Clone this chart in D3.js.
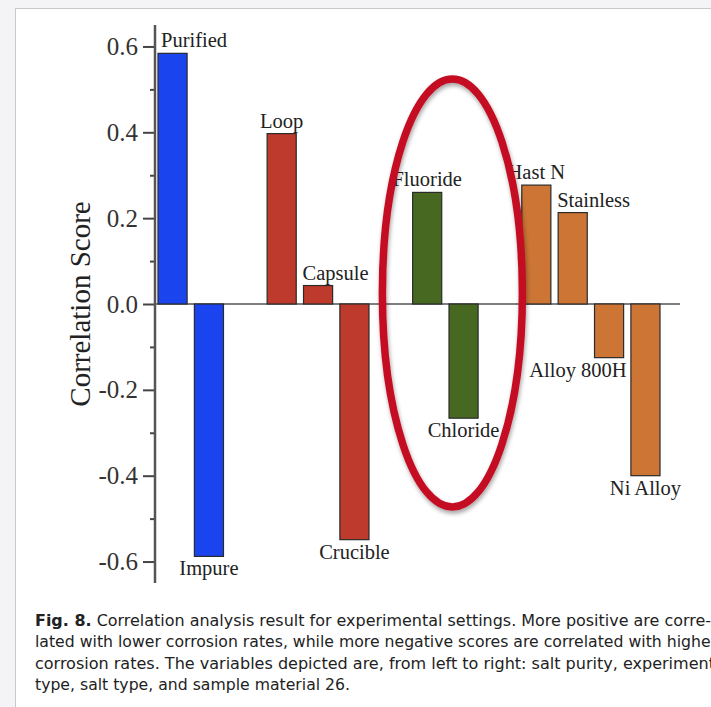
<!DOCTYPE html>
<html><head><meta charset="utf-8">
<script src="https://cdn.jsdelivr.net/npm/d3@7"></script>
<style>
html,body{margin:0;padding:0;background:#f4f4f6;}
svg{display:block;}
</style></head>
<body>
<svg id="c" width="711" height="707"></svg>
<script>
const categories = ["Purified","Impure","Loop","Capsule","Crucible","Fluoride","Chloride","Hast N","Stainless","Alloy 800H","Ni Alloy"];
const values = [0.584, -0.588, 0.397, 0.043, -0.549, 0.260, -0.266, 0.277, 0.213, -0.125, -0.400];
const groups = ["Salt purity","Salt purity","Experiment type","Experiment type","Experiment type","Salt type","Salt type","Sample material","Sample material","Sample material","Sample material"];
const groupNames = ["Salt purity","Experiment type","Salt type","Sample material"];
const groupColors = ["#1a44ee","#be3a2c","#476820","#cc7535"];
const labelAnchor = ["start","middle","middle","start","middle","middle","middle","middle","start","end","middle"];
const majorTicks = [-0.6,-0.4,-0.2,0.0,0.2,0.4,0.6];
const minorTicks = [-0.5,-0.3,-0.1,0.1,0.3,0.5];
const yTitle = "Correlation Score";
const captionBold = "Fig. 8.";
const captionLines = [
  " Correlation analysis result for experimental settings. More positive are corre-",
  "lated with lower corrosion rates, while more negative scores are correlated with higher",
  "corrosion rates. The variables depicted are, from left to right: salt purity, experiment",
  "type, salt type, and sample material 26."
];
const captionWidths = [676, 682, 680, 315];

const svg = d3.select("#c");
// card background
svg.append("rect").attr("x",15.5).attr("y",8.5).attr("width",720).attr("height",720)
  .attr("fill","#fff").attr("stroke","#c8c8c8").attr("stroke-width",1);

// slots with gaps between groups
const slots = [];
categories.forEach((c,i)=>{
  if(i>0 && groups[i]!==groups[i-1]) slots.push("gap"+i);
  slots.push(c);
});
const x = d3.scaleBand().domain(slots).range([158,660]).paddingInner(0.2).paddingOuter(0);
const y = d3.scaleLinear().domain([-0.65,0.65]).range([583,25]);
const color = d3.scaleOrdinal().domain(groupNames).range(groupColors);
const serif = "'Liberation Serif','Times New Roman',serif";

// zero line
svg.append("line").attr("x1",155).attr("x2",680).attr("y1",y(0)).attr("y2",y(0))
  .attr("stroke","#555").attr("stroke-width",1.5);

// bars
const data = categories.map((c,i)=>({c, v:values[i], g:groups[i], a:labelAnchor[i]}));
svg.append("g").selectAll("rect").data(data).join("rect")
  .attr("x",d=>x(d.c)).attr("width",x.bandwidth())
  .attr("y",d=>y(Math.max(0,d.v))).attr("height",d=>Math.abs(y(d.v)-y(0)))
  .attr("fill",d=>color(d.g)).attr("stroke","#2a2a2a").attr("stroke-width",1.2);

// bar labels
svg.append("g").selectAll("text").data(data).join("text")
  .attr("x",d=> d.a==="middle" ? x(d.c)+x.bandwidth()/2 : d.a==="start" ? x(d.c)+ (d.c==="Purified"?3:-1) : x(d.c)+x.bandwidth()+3)
  .attr("y",d=> d.v>=0 ? y(d.v)-6 : y(d.v)+19)
  .attr("text-anchor",d=>d.a)
  .attr("font-family",serif).attr("font-size",20.5).attr("fill","#222")
  .text(d=>d.c);

// y axis
const fmt = v => d3.format(".1f")(v).replace("\u2212","-");
const ax = svg.append("g").attr("transform","translate(155,0)")
  .call(d3.axisLeft(y).tickValues(majorTicks).tickSize(12).tickPadding(5).tickFormat(fmt));
ax.select(".domain").remove();
ax.selectAll(".tick line").attr("stroke","#444").attr("stroke-width",2);
ax.selectAll(".tick text").attr("font-family",serif).attr("font-size",25).attr("fill","#333");
const axm = svg.append("g").attr("transform","translate(155,0)")
  .call(d3.axisLeft(y).tickValues(minorTicks).tickSize(5).tickFormat(""));
axm.select(".domain").remove();
axm.selectAll(".tick line").attr("stroke","#444").attr("stroke-width",2);
svg.append("line").attr("x1",155).attr("x2",155).attr("y1",y(0.65)).attr("y2",y(-0.65))
  .attr("stroke","#555").attr("stroke-width",2.5);

svg.append("text").attr("transform","translate(90,"+y(0)+") rotate(-90)")
  .attr("text-anchor","middle").attr("font-family",serif).attr("font-size",29).attr("fill","#222")
  .text(yTitle);

// annotation ellipse around salt type group
const defs = svg.append("defs");
const f = defs.append("filter").attr("id","sh").attr("x","-20%").attr("y","-20%").attr("width","140%").attr("height","140%");
f.append("feDropShadow").attr("dx",1).attr("dy",3).attr("stdDeviation",2).attr("flood-color","#000").attr("flood-opacity",0.35);
const cx = (x("Fluoride")+x("Chloride")+x.bandwidth())/2 + 7;
svg.append("ellipse").attr("cx",cx).attr("cy",y(0)-11).attr("rx",70).attr("ry",214)
  .attr("fill","none").attr("stroke","#c40f24").attr("stroke-width",7.5).attr("filter","url(#sh)");

// caption
const cap = svg.append("g").attr("font-family","'DejaVu Sans Condensed','Liberation Sans Narrow',sans-serif")
  .attr("font-size",16.5).attr("fill","#222");
captionLines.forEach((l,i)=>{
  const t = cap.append("text").attr("x",35).attr("y",626+i*21.3)
    .attr("textLength",captionWidths[i]).attr("lengthAdjust","spacingAndGlyphs");
  if(i===0){ t.append("tspan").attr("font-weight","bold").text(captionBold); }
  t.append("tspan").text(l);
});
</script>
</body></html>
